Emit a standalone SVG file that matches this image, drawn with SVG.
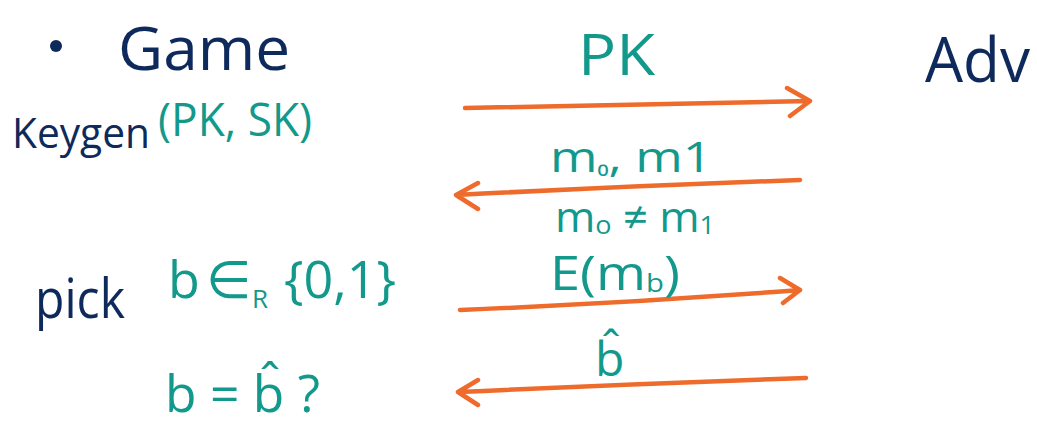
<svg xmlns="http://www.w3.org/2000/svg" width="1037" height="435" viewBox="0 0 1037 435">
<defs>
<style>
.navy{fill:#0e2a5c;font-family:"Open Sans","DejaVu Sans",sans-serif}
.teal{fill:#12998b;font-family:"Open Sans","DejaVu Sans",sans-serif}
.arr{fill:none;stroke:#ee6b2c;stroke-width:4.5;stroke-linecap:round;stroke-linejoin:round}
</style>
</defs>
<rect width="1037" height="435" fill="#ffffff"/>
<g id="game">
<circle cx="56" cy="46" r="6" fill="#0e2a5c"/>
<text class="navy" x="118" y="70" font-size="60" textLength="172" lengthAdjust="spacingAndGlyphs">Game</text>
</g>
<g id="keygen">
<text class="navy" x="12" y="148" font-size="42" textLength="138" lengthAdjust="spacingAndGlyphs">Keygen</text>
<text class="teal" x="158" y="136" font-size="46" textLength="154" lengthAdjust="spacingAndGlyphs">(PK, SK)</text>
</g>
<g id="adv">
<text class="navy" x="925" y="82" font-size="62" textLength="105" lengthAdjust="spacingAndGlyphs">Adv</text>
</g>
<g id="pick">
<text class="navy" x="35" y="318" font-size="54" textLength="90" lengthAdjust="spacingAndGlyphs">pick</text>
<text class="teal" font-size="52"><tspan x="168" y="298">b</tspan><tspan x="206" y="298">∈</tspan><tspan x="252" y="308" font-size="26">R</tspan><tspan x="284" y="298">{0,1}</tspan></text>
</g>
<g id="check">
<text class="teal" x="165" y="412" font-size="52" textLength="155" lengthAdjust="spacingAndGlyphs">b = b̂ ?</text>
</g>
<g id="connectors">
<path class="arr" d="M465 108 Q640 104 810 101 M787 88 L810 101 L790 116"/>
<path class="arr" d="M800 180 Q630 186 456 195 M478 183 L456 195 L478 209"/>
<path class="arr" d="M460 310 Q630 303 800 290 M780 278 L800 290 L783 303"/>
<path class="arr" d="M806 378 Q630 384 458 392 M478 380 L458 392 L478 405"/>
</g>
<g id="labels">
<text class="teal" x="578" y="75" font-size="56" textLength="77" lengthAdjust="spacingAndGlyphs">PK</text>
<text class="teal" x="550" y="172" font-size="42" textLength="162" lengthAdjust="spacingAndGlyphs">m<tspan font-size="26">₀</tspan>, m<tspan font-size="42">1</tspan></text>
<text class="teal" x="555" y="232" font-size="42" textLength="160" lengthAdjust="spacingAndGlyphs">m<tspan font-size="26" dy="2">o</tspan><tspan dy="-2"> ≠ m</tspan><tspan font-size="26" dy="2">1</tspan></text>
<text class="teal" x="550" y="290" font-size="48" textLength="130" lengthAdjust="spacingAndGlyphs">E(m<tspan font-size="26" dy="2">b</tspan><tspan dy="-2">)</tspan></text>
<text class="teal" x="595" y="376" font-size="48">b̂</text>
</g>
</svg>
